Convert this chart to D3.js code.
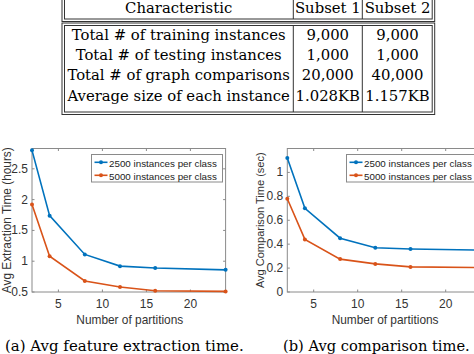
<!DOCTYPE html>
<html>
<head>
<meta charset="utf-8">
<script src="https://cdn.jsdelivr.net/npm/d3@7"></script>
<style>
  body { margin: 0; background: #fff; }
  svg { display: block; }
</style>
</head>
<body>
<script>
// table data
const headers = ['Characteristic', 'Subset 1', 'Subset 2'];
const rowLabels = ['Total # of training instances', 'Total # of testing instances',
                   'Total # of graph comparisons', 'Average size of each instance'];
const subset1 = ['9,000', '1,000', '20,000', '1.028KB'];
const subset2 = ['9,000', '1,000', '40,000', '1.157KB'];

// chart data
const partitions = [2, 4, 8, 12, 16, 24];
const extraction2500 = [2.80, 1.74, 1.11, 0.92, 0.89, 0.86];
const extraction5000 = [1.92, 1.08, 0.68, 0.58, 0.52, 0.51];
const comparison2500 = [1.12, 0.70, 0.45, 0.37, 0.36, 0.35];
const comparison5000 = [0.78, 0.44, 0.275, 0.235, 0.21, 0.205];
const seriesNames = ['2500 instances per class', '5000 instances per class'];
const captions = ['(a) Avg feature extraction time.', '(b) Avg comparison time.'];

const width = 474, height = 354;
const blue = '#0072BD', orange = '#D95319';
const serif = '"DejaVu Serif", "Liberation Serif", serif';
const sans = '"Liberation Sans", Arial, sans-serif';

const svg = d3.select('body').append('svg')
    .attr('width', width)
    .attr('height', height);

// shrink/grow a text's font so it takes the given width
function fitWidth(sel, w) {
    sel.each(function () {
        const fs = parseFloat(this.style.fontSize);
        const len = this.getComputedTextLength();
        if (len > 0) this.style.fontSize = (fs * w / len) + 'px';
    });
}

// ---- table ----
const colX = [62, 293.3, 362.3, 434.7];
const tbl = svg.append('g').attr('stroke', '#333').attr('fill', 'none').attr('stroke-width', 1);

// header box (top is cut off) and body box, both double-ruled
function doubleBox(x0, y0, x1, y1) {
    tbl.append('rect').attr('x', x0).attr('y', y0).attr('width', x1 - x0).attr('height', y1 - y0);
    tbl.append('rect').attr('x', x0 + 2.5).attr('y', y0 + 2.5).attr('width', x1 - x0 - 5).attr('height', y1 - y0 - 5);
}
doubleBox(colX[0], -10, colX[3], 21.5);
doubleBox(colX[0], 23, colX[3], 114.5);
[colX[1], colX[2]].forEach(x => {
    tbl.append('line').attr('x1', x).attr('x2', x).attr('y1', 0).attr('y2', 19);
    tbl.append('line').attr('x1', x).attr('x2', x).attr('y1', 25.5).attr('y2', 112);
});

const colCenter = [(colX[0] + colX[1]) / 2 + 1, (colX[1] + colX[2]) / 2, (colX[2] + colX[3]) / 2 - 1];
const rowY = d3.scaleLinear().domain([0, 3]).range([39.5, 100.5]);
const body = svg.append('g')
    .style('font-family', serif)
    .attr('text-anchor', 'middle');
body.selectAll('text.lab').data(rowLabels).join('text').attr('class', 'lab')
    .attr('x', colCenter[0]).attr('y', (_, i) => rowY(i)).text(d => d)
    .style('font-size', '15px');
fitWidth(body.select('text.lab'), 214);
const labSize = body.select('text.lab').style('font-size');
body.selectAll('text.lab').style('font-size', labSize);
body.selectAll('text.s1').data(subset1).join('text').attr('class', 's1')
    .attr('x', colCenter[1]).attr('y', (_, i) => rowY(i)).text(d => d).style('font-size', labSize);
body.selectAll('text.s2').data(subset2).join('text').attr('class', 's2')
    .attr('x', colCenter[2]).attr('y', (_, i) => rowY(i)).text(d => d).style('font-size', labSize);
body.selectAll('text.hd').data(headers).join('text').attr('class', 'hd')
    .attr('x', (_, i) => colCenter[i]).attr('y', 13).text(d => d).style('font-size', labSize);

// ---- line charts ----
function drawPanel(opt) {
    const g = svg.append('g');
    const x = d3.scaleLinear().domain([2, 24]).range([opt.left, opt.left + 193.6]);
    const y = d3.scaleLinear().domain(opt.yDomain).range([292, 148.5]);
    const [x0, x1] = x.range();
    const [yb, yt] = y.range();

    // axes box
    g.append('rect')
        .attr('x', x0).attr('y', yt)
        .attr('width', x1 - x0).attr('height', yb - yt)
        .attr('fill', 'none').attr('stroke', '#8a8a8a').attr('stroke-width', 1);

    // ticks inside on all four sides
    const xt = [5, 10, 15, 20];
    g.append('g').selectAll('path')
        .data(xt)
        .join('path')
            .attr('d', d => `M${x(d)},${yb}v-2.5M${x(d)},${yt}v2.5`)
            .attr('stroke', '#8a8a8a');
    g.append('g').selectAll('path')
        .data(opt.yTicks)
        .join('path')
            .attr('d', d => `M${x0},${y(d)}h2.5M${x1},${y(d)}h-2.5`)
            .attr('stroke', '#8a8a8a');

    g.append('g').selectAll('text')
        .data(xt)
        .join('text')
            .attr('x', d => x(d))
            .attr('y', yb + 15.5)
            .attr('text-anchor', 'middle')
            .style('font-family', sans).style('font-size', '12px').attr('fill', '#333')
            .text(d => d);
    g.append('g').selectAll('text')
        .data(opt.yTicks)
        .join('text')
            .attr('x', x0 - 4)
            .attr('y', d => y(d) + 4)
            .attr('text-anchor', 'end')
            .style('font-family', sans).style('font-size', '12px').attr('fill', '#333')
            .text(d => d);

    const xl = g.append('text')
        .attr('x', (x0 + x1) / 2 + 1)
        .attr('y', yb + 31.5)
        .attr('text-anchor', 'middle')
        .style('font-family', sans).style('font-size', '12px').attr('fill', '#333')
        .text('Number of partitions');
    fitWidth(xl, 107);
    const yl = g.append('text')
        .attr('transform', `translate(${opt.ylabX},${(yb + yt) / 2}) rotate(-90)`)
        .attr('text-anchor', 'middle')
        .style('font-family', sans).style('font-size', '12px').attr('fill', '#333')
        .text(opt.ylabel);
    fitWidth(yl, opt.ylabW);

    const line = d3.line().x((d, i) => x(partitions[i])).y(d => y(d));
    [[opt.a, blue], [opt.b, orange]].forEach(([vals, c]) => {
        g.append('path')
            .datum(vals)
            .attr('d', line)
            .attr('fill', 'none').attr('stroke', c).attr('stroke-width', 1.6);
        g.append('g').selectAll('circle')
            .data(vals)
            .join('circle')
                .attr('cx', (d, i) => x(partitions[i]))
                .attr('cy', d => y(d))
                .attr('r', 2)
                .attr('fill', c);
    });

    // legend
    const lg = g.append('g').attr('transform', `translate(${opt.legX},154.5)`);
    lg.append('rect')
        .attr('width', 131).attr('height', 27.5)
        .attr('fill', '#fff').attr('stroke', '#8a8a8a');
    [blue, orange].forEach((c, i) => {
        const ly = 7.8 + i * 13;
        lg.append('line').attr('x1', 3).attr('x2', 16).attr('y1', ly).attr('y2', ly)
            .attr('stroke', c).attr('stroke-width', 1.6);
        lg.append('circle').attr('cx', 9.5).attr('cy', ly).attr('r', 2).attr('fill', c);
        const t = lg.append('text')
            .attr('x', 17.5).attr('y', ly + 4.2)
            .style('font-family', sans).style('font-size', '12px').attr('fill', '#222')
            .text(seriesNames[i]);
        fitWidth(t, 108);
    });

    const cap = svg.append('text')
        .attr('x', opt.capX)
        .attr('y', 351)
        .style('font-family', serif).style('font-size', '16px')
        .text(opt.caption);
    fitWidth(cap, opt.capW);
}

drawPanel({
    left: 32, yDomain: [0.5, 2.83], yTicks: [0.5, 1, 1.5, 2, 2.5],
    a: extraction2500, b: extraction5000, ylabel: 'Avg Extraction Time (hours)', ylabW: 146,
    ylabX: 10.5, legX: 91.5, capX: 5, capW: 239, caption: captions[0]
});
drawPanel({
    left: 287.3, yDomain: [0, 1.2], yTicks: [0, 0.2, 0.4, 0.6, 0.8, 1],
    a: comparison2500, b: comparison5000, ylabel: 'Avg Comparison Time (sec)', ylabW: 136,
    ylabX: 263.5, legX: 346.5, capX: 283, capW: 187, caption: captions[1]
});
</script>
</body>
</html>
